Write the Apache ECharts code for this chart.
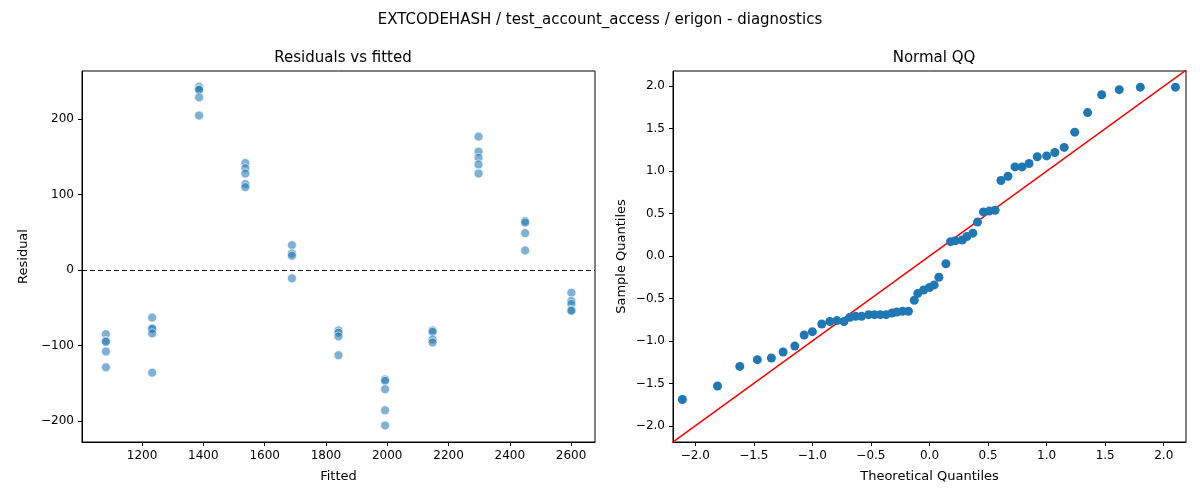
<!DOCTYPE html>
<html>
<head>
<meta charset="utf-8">
<script src="https://cdn.jsdelivr.net/npm/echarts@6/dist/echarts.min.js"></script>
<style>html,body{margin:0;padding:0;background:#fff;}#main{width:1200px;height:500px;}</style>
</head>
<body>
<div id="main"></div>
<script>
// residuals grouped by fitted value
var fittedX = [1082, 1233, 1386, 1537, 1689, 1841, 1993, 2148, 2298, 2450, 2601];
var residualGroups = [
  [-85, -94, -95, -108, -129],
  [-63, -77, -78, -84, -136],
  [243, 240, 239, 229, 205],
  [142, 135, 128, 114, 110],
  [33, 22, 19, -11],
  [-80, -83, -88, -113],
  [-145, -147, -158, -186, -206],
  [-80, -82, -92, -96],
  [177, 157, 149, 140, 128],
  [65, 63, 49, 26],
  [-30, -41, -45, -53, -54]
];
var theoQ = [-2.11, -1.81, -1.62, -1.47, -1.35, -1.25, -1.15, -1.07, -1.00, -0.92, -0.85, -0.79, -0.73, -0.68,
  -0.63, -0.58, -0.52, -0.47, -0.42, -0.37, -0.32, -0.28, -0.23, -0.18, -0.13, -0.10, -0.05, 0.0, 0.04, 0.08,
  0.14, 0.18, 0.22, 0.28, 0.32, 0.37, 0.41, 0.46, 0.51, 0.56, 0.61, 0.67, 0.73, 0.79, 0.85, 0.92, 1.00, 1.07,
  1.15, 1.24, 1.35, 1.47, 1.62, 1.80, 2.10];
var sampleQ = [-1.69, -1.53, -1.30, -1.22, -1.20, -1.13, -1.06, -0.93, -0.89, -0.80, -0.77, -0.76, -0.77, -0.72,
  -0.71, -0.71, -0.69, -0.69, -0.69, -0.69, -0.67, -0.66, -0.65, -0.65, -0.52, -0.44, -0.40, -0.37, -0.34, -0.25,
  -0.09, 0.17, 0.18, 0.19, 0.23, 0.27, 0.40, 0.52, 0.53, 0.54, 0.89, 0.94, 1.05, 1.05, 1.09, 1.17, 1.18, 1.22,
  1.28, 1.46, 1.69, 1.90, 1.96, 1.99, 1.99];
var leftXTicks = [1200, 1400, 1600, 1800, 2000, 2200, 2400, 2600];
var leftYTicks = [-200, -100, 0, 100, 200];
var qqTicks = [-2, -1.5, -1, -0.5, 0, 0.5, 1, 1.5, 2];
var refLine = [[-2.2, -2.2], [2.2, 2.2]];

var residPts = [];
fittedX.forEach(function (x, i) {
  residualGroups[i].forEach(function (r) { residPts.push([x, r]); });
});
var qqPts = theoQ.map(function (x, i) { return [x, sampleQ[i]]; });

var font = 'DejaVu Sans';
function minus(v, d) {
  var s = d ? Math.abs(v).toFixed(d) : String(Math.abs(v));
  return (v < 0 ? '\u2212' : '') + s;
}
function axis(min, max, ticks, fmt, name, gap, extra) {
  var a = {
    type: 'value', min: min, max: max,
    name: name, nameLocation: 'middle', nameGap: gap,
    nameTextStyle: { fontFamily: font, fontSize: 13, color: '#000' },
    splitLine: { show: false },
    axisLine: { show: true, onZero: false, lineStyle: { color: '#000', width: 1 } },
    axisTick: { show: true, length: 4, lineStyle: { color: '#000' }, customValues: ticks },
    axisLabel: { fontFamily: font, fontSize: 12, color: '#000', customValues: ticks, formatter: fmt }
  };
  return Object.assign(a, extra || {});
}

var chart = echarts.init(document.getElementById('main'));
chart.setOption({
  animation: false,
  title: [
    { text: 'EXTCODEHASH / test_account_access / erigon - diagnostics', left: 'center', top: 8,
      textStyle: { fontFamily: font, fontSize: 15, fontWeight: 'normal', color: '#000' } },
    { text: 'Residuals vs fitted', left: 338, top: 46, textAlign: 'center',
      textStyle: { fontFamily: font, fontSize: 15, fontWeight: 'normal', color: '#000' } },
    { text: 'Normal QQ', left: 929, top: 46, textAlign: 'center',
      textStyle: { fontFamily: font, fontSize: 15, fontWeight: 'normal', color: '#000' } }
  ],
  grid: [
    { left: 82, top: 71, width: 513, height: 371, show: true, borderColor: '#000', borderWidth: 1 },
    { left: 673, top: 71, width: 513, height: 371, show: true, borderColor: '#000', borderWidth: 1 }
  ],
  xAxis: [
    axis(1004, 2678, leftXTicks, function (v) { return String(v); }, 'Fitted', 28, { gridIndex: 0 }),
    axis(-2.19, 2.19, qqTicks, function (v) { return minus(v, 1); }, 'Theoretical Quantiles', 28, { gridIndex: 1 })
  ],
  yAxis: [
    axis(-228, 264, leftYTicks, function (v) { return minus(v); }, 'Residual', 52, { gridIndex: 0 }),
    axis(-2.19, 2.18, qqTicks, function (v) { return minus(v, 1); }, 'Sample Quantiles', 45, { gridIndex: 1 })
  ],
  series: [
    {
      type: 'scatter', xAxisIndex: 0, yAxisIndex: 0, data: residPts, symbolSize: 9,
      itemStyle: { color: 'rgba(31,119,180,0.72)', borderColor: '#fff', borderWidth: 0.8 },
      markLine: {
        silent: true, symbol: 'none', label: { show: false },
        lineStyle: { color: '#000', type: [5, 3], width: 1 },
        data: [{ yAxis: 0 }]
      }
    },
    {
      type: 'scatter', xAxisIndex: 1, yAxisIndex: 1, data: qqPts, symbolSize: 9,
      itemStyle: { color: '#1f77b4', opacity: 1 }
    },
    {
      type: 'line', xAxisIndex: 1, yAxisIndex: 1, data: refLine, symbol: 'none',
      lineStyle: { color: '#ff0000', width: 1.5 }, z: 1
    }
  ]
});
</script>
</body>
</html>
